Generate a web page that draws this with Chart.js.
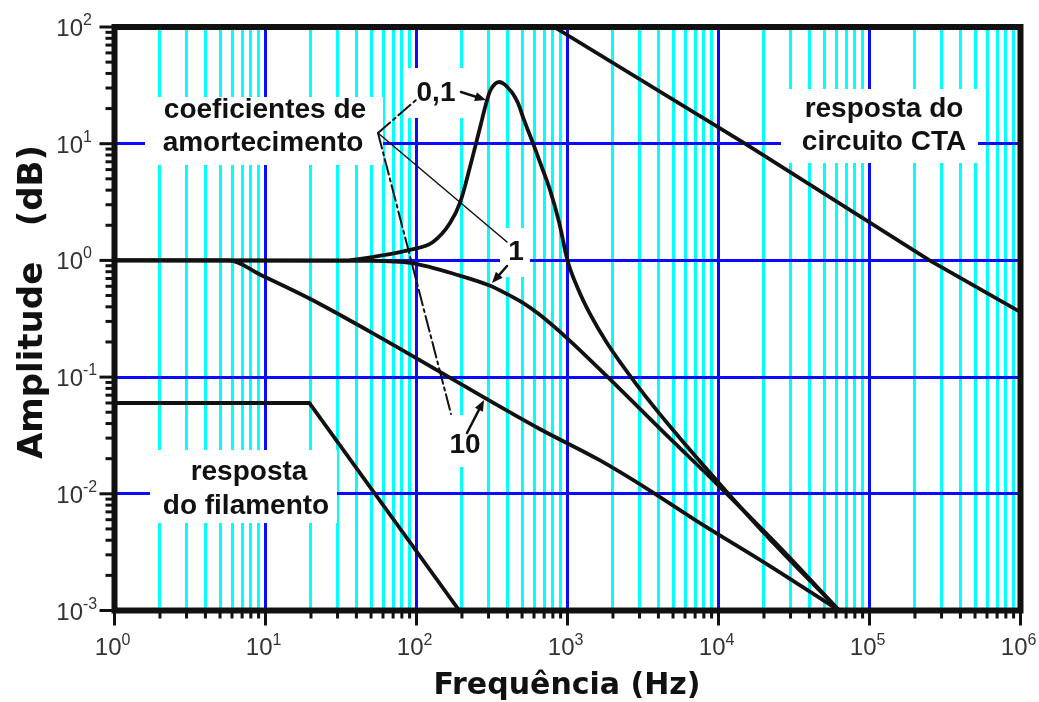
<!DOCTYPE html>
<html>
<head>
<meta charset="utf-8">
<script src="https://cdn.jsdelivr.net/npm/chart.js@4.4.1/dist/chart.umd.min.js"></script>
<style>
  html, body { margin: 0; padding: 0; background: #fff; }
  #wrap { width: 1039px; height: 702px; position: relative; }
</style>
</head>
<body>
<div id="wrap"><canvas id="ampChart"></canvas></div>
<script>
// axis decades and their exponent labels
const xMajors = [1, 10, 100, 1000, 10000, 100000, 1000000];
const xExponents = ["0", "1", "2", "3", "4", "5", "6"];
const yMajors = [0.001, 0.01, 0.1, 1, 10, 100];
const yExponents = ["-3", "-2", "-1", "0", "1", "2"];

// curves: frequency (Hz) and amplitude
const filamentFreq = [1, 19.5, 192];
const filamentAmp = [0.06, 0.06, 0.001];

const ctaFreq = [815, 15000, 250000, 1000000];
const ctaAmp = [100, 10, 1, 0.36];

const damp01Freq = [1, 32.6, 55.6, 90.5, 128.6, 166.7, 194, 226, 264, 288.5, 307, 331, 352, 380, 404, 436, 470, 515, 591, 668, 766, 879, 1000, 1175, 1409, 1827, 2884, 5000, 10230, 20950, 63000];
const damp01Amp = [1, 1, 1.09, 1.23, 1.44, 2.09, 3.11, 6.31, 13.9, 21.9, 28.3, 32.5, 33.8, 32.5, 30.0, 26.7, 22.3, 16.0, 10.1, 6.56, 4.01, 2.13, 1.0, 0.569, 0.348, 0.196, 0.0855, 0.0352, 0.0121, 0.00434, 0.001];

const damp1Freq = [1, 50, 93, 190, 302, 400, 501, 646, 1000, 1820, 4900, 9660, 25100, 63000];
const damp1Amp = [1, 0.99, 0.946, 0.746, 0.612, 0.513, 0.437, 0.347, 0.214, 0.102, 0.0288, 0.0123, 0.00355, 0.001];

const damp10Freq = [1, 5.7, 9.4, 19.4, 58.9, 164, 646, 1622, 3311, 7413, 20750, 63000];
const damp10Amp = [1, 1, 0.746, 0.474, 0.215, 0.1, 0.0363, 0.0195, 0.0112, 0.00569, 0.00251, 0.001];

const BLUE = "#0a0aff";
const CYAN = "#00ffff";
const INK = "#111";

function decadeTicks(majors) {
  const out = [];
  majors.forEach((m, i) => {
    out.push(m);
    if (i < majors.length - 1) {
      for (let k = 2; k <= 9; k++) out.push(+(m * k).toPrecision(6));
    }
  });
  return out;
}
const xTicks = decadeTicks(xMajors);
const yTicks = decadeTicks(yMajors);

function toPoints(xs, ys) {
  return xs.map((x, i) => ({ x: x, y: ys[i] }));
}

function curve(xs, ys, smooth) {
  return {
    data: toPoints(xs, ys),
    borderColor: INK,
    borderWidth: 3.8,
    pointRadius: 0,
    fill: false,
    tension: 0,
    cubicInterpolationMode: smooth ? "monotone" : "default",
  };
}

function arrow(ctx, x1, y1, x2, y2) {
  const a = Math.atan2(y2 - y1, x2 - x1);
  const len = 11;
  ctx.beginPath();
  ctx.moveTo(x1, y1);
  ctx.lineTo(x2 - Math.cos(a) * len * 0.6, y2 - Math.sin(a) * len * 0.6);
  ctx.stroke();
  ctx.beginPath();
  ctx.moveTo(x2, y2);
  ctx.lineTo(x2 - len * Math.cos(a) + 4.5 * Math.sin(a), y2 - len * Math.sin(a) - 4.5 * Math.cos(a));
  ctx.lineTo(x2 - len * Math.cos(a) - 4.5 * Math.sin(a), y2 - len * Math.sin(a) + 4.5 * Math.cos(a));
  ctx.closePath();
  ctx.fill();
}

// white boxes behind the annotations, then the annotation text
const labelPlugin = {
  id: "labels",
  beforeDatasetsDraw(chart) {
    const ctx = chart.ctx;
    ctx.save();
    ctx.fillStyle = "#fff";
    [
      [145, 97, 383, 165],
      [781, 89, 978, 163],
      [150, 450, 337, 523],
      [405, 68, 468, 118],
      [500, 228, 530, 277],
      [440, 415, 485, 467],
    ].forEach((b) => ctx.fillRect(b[0], b[1], b[2] - b[0], b[3] - b[1]));

    ctx.fillStyle = INK;
    ctx.font = 'bold 28px "Liberation Sans", Arial, sans-serif';
    ctx.textAlign = "center";
    ctx.textBaseline = "middle";
    ctx.fillText("coeficientes de", 265, 110);
    ctx.fillText("amortecimento", 263, 143);
    ctx.fillText("resposta do", 884, 109);
    ctx.fillText("circuito CTA", 884, 142);
    ctx.fillText("resposta", 249, 472);
    ctx.fillText("do filamento", 246, 506);
    ctx.fillText("0,1", 436, 93);
    ctx.fillText("1", 516, 252);
    ctx.fillText("10", 465, 445);
    ctx.restore();
  },
  afterDatasetsDraw(chart) {
    const ctx = chart.ctx;
    const a = chart.chartArea;
    ctx.save();
    ctx.strokeStyle = INK;
    ctx.fillStyle = INK;
    ctx.lineCap = "round";

    // pointer lines from the "coeficientes" label
    ctx.lineWidth = 2;
    ctx.setLineDash([16, 4, 3, 4]);
    ctx.beginPath();
    ctx.moveTo(378, 133);
    ctx.lineTo(416, 100);
    ctx.stroke();
    ctx.beginPath();
    ctx.moveTo(378, 133);
    ctx.lineTo(451, 414);
    ctx.stroke();
    ctx.setLineDash([]);
    ctx.lineWidth = 1.5;
    ctx.beginPath();
    ctx.moveTo(378, 133);
    ctx.lineTo(507, 242);
    ctx.stroke();

    ctx.lineWidth = 2.5;
    arrow(ctx, 461, 92, 486, 100);
    arrow(ctx, 507, 266, 492, 283);
    arrow(ctx, 467, 433, 484, 400);

    // frame
    ctx.lineWidth = 6;
    ctx.lineCap = "butt";
    ctx.strokeRect(a.left, a.top, a.right - a.left, a.bottom - a.top);
    ctx.restore();
  },
  afterDraw(chart) {
    const ctx = chart.ctx;
    const a = chart.chartArea;
    const xs = chart.scales.x;
    const ys = chart.scales.y;
    ctx.save();
    ctx.strokeStyle = INK;
    ctx.lineWidth = 3;

    yTicks.forEach((v) => {
      const py = ys.getPixelForValue(v);
      const len = yMajors.includes(v) ? 15 : 9;
      ctx.beginPath();
      ctx.moveTo(a.left - len, py);
      ctx.lineTo(a.left, py);
      ctx.stroke();
    });
    xTicks.forEach((v) => {
      const px = xs.getPixelForValue(v);
      const len = xMajors.includes(v) ? 15 : 8;
      ctx.beginPath();
      ctx.moveTo(px, a.bottom);
      ctx.lineTo(px, a.bottom + len);
      ctx.stroke();
    });

    // tick labels: 10 with a raised exponent
    ctx.fillStyle = "#333";
    ctx.textBaseline = "alphabetic";
    yMajors.forEach((v, i) => {
      const py = ys.getPixelForValue(v);
      ctx.font = '24px "Liberation Sans", Arial, sans-serif';
      ctx.textAlign = "right";
      ctx.fillText("10", 83, py + 9);
      ctx.font = '16px "Liberation Sans", Arial, sans-serif';
      ctx.textAlign = "left";
      ctx.fillText(yExponents[i], 83, py - 2);
    });
    xMajors.forEach((v, i) => {
      const px = xs.getPixelForValue(v);
      ctx.font = '24px "Liberation Sans", Arial, sans-serif';
      ctx.textAlign = "right";
      ctx.fillText("10", px + 7, 655);
      ctx.font = '16px "Liberation Sans", Arial, sans-serif';
      ctx.textAlign = "left";
      ctx.fillText(xExponents[i], px + 7, 645);
    });

    // axis titles
    ctx.fillStyle = INK;
    ctx.font = 'bold 30px "DejaVu Sans", sans-serif';
    ctx.textAlign = "center";
    ctx.fillText("Frequência (Hz)", 567, 694);
    ctx.translate(33, 302);
    ctx.rotate(-Math.PI / 2);
    ctx.font = 'bold 34px "DejaVu Sans", sans-serif';
    ctx.textBaseline = "middle";
    ctx.fillText("Amplitude   (dB)", 0, 0);
    ctx.restore();
  },
};

const config = {
  type: "line",
  data: {
    datasets: [
      curve(filamentFreq, filamentAmp, false),
      curve(ctaFreq, ctaAmp, false),
      curve(damp01Freq, damp01Amp, true),
      curve(damp1Freq, damp1Amp, true),
      curve(damp10Freq, damp10Amp, true),
    ],
  },
  options: {
    responsive: true,
    maintainAspectRatio: false,
    animation: false,
    events: [],
    layout: { padding: { left: 114.5, top: 27, right: 18.5, bottom: 91.5 } },
    plugins: { legend: { display: false }, tooltip: { enabled: false } },
    scales: {
      x: {
        type: "logarithmic",
        min: 1,
        max: 1000000,
        afterBuildTicks: (s) => { s.ticks = xTicks.map((v) => ({ value: v })); },
        afterFit: (s) => { s.height = 0; },
        ticks: { display: false },
        border: { display: false },
        grid: {
          drawTicks: false,
          lineWidth: 3,
          color: (c) => (c.tick && xMajors.includes(c.tick.value) ? BLUE : CYAN),
        },
      },
      y: {
        type: "logarithmic",
        min: 0.001,
        max: 100,
        afterBuildTicks: (s) => { s.ticks = yTicks.map((v) => ({ value: v })); },
        afterFit: (s) => { s.width = 0; },
        ticks: { display: false },
        border: { display: false },
        grid: {
          drawTicks: false,
          lineWidth: 3,
          color: (c) => (c.tick && yMajors.includes(c.tick.value) ? BLUE : "rgba(0,0,0,0)"),
        },
      },
    },
  },
  plugins: [labelPlugin],
};

new Chart(document.getElementById("ampChart").getContext("2d"), config);
</script>
</body>
</html>
